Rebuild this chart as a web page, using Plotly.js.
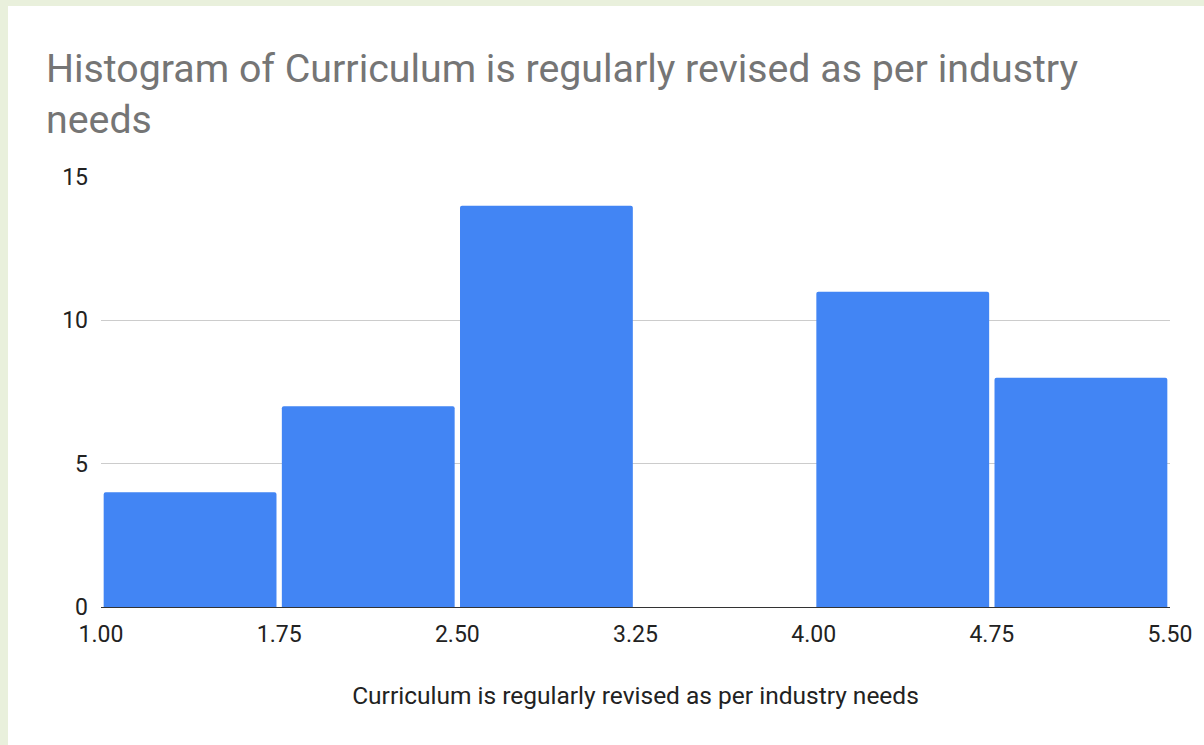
<!DOCTYPE html>
<html>
<head>
<meta charset="utf-8">
<script src="https://cdn.plot.ly/plotly-3.0.1.min.js"></script>
<style>
  html, body { margin: 0; padding: 0; background: #e9f0dc; width: 1204px; height: 745px; overflow: hidden; }
  #chart { position: absolute; left: 8px; top: 6px; width: 1196px; height: 739px; background: #ffffff; }
</style>
</head>
<body>
<div id="chart"></div>
<script>
// Data
const binEdges = [1.00, 1.75, 2.50, 3.25, 4.00, 4.75, 5.50];
const counts = [4, 7, 14, 0, 11, 8];
const yTicks = [0, 5, 10, 15];
const chartTitle = "Histogram of Curriculum is regularly revised as per industry<br>needs";
const xTitle = "Curriculum is regularly revised as per industry needs";

const centers = counts.map((c, i) => (binEdges[i] + binEdges[i + 1]) / 2);

const trace = {
  type: 'bar',
  x: centers,
  y: counts,
  marker: { color: '#4285f4', cornerradius: 2 },
  hoverinfo: 'x+y'
};

const layout = {
  width: 1196,
  height: 739,
  paper_bgcolor: '#ffffff',
  plot_bgcolor: '#ffffff',
  bargap: 0.03,
  showlegend: false,
  margin: { l: 93, r: 34, t: 171, b: 138 },
  title: {
    text: chartTitle,
    font: { family: 'Roboto, Arial, sans-serif', size: 39.3, color: '#757575' },
    x: 38 / 1196, xref: 'container', xanchor: 'left',
    y: 1 - 76 / 739, yref: 'container', yanchor: 'top'
  },
  xaxis: {
    range: [binEdges[0], binEdges[binEdges.length - 1]],
    tickmode: 'array',
    tickvals: binEdges,
    ticktext: binEdges.map(v => v.toFixed(2)),
    showgrid: false,
    zeroline: false,
    showline: true,
    linecolor: '#333333',
    linewidth: 1.3,
    ticks: '',
    tickfont: { family: 'Roboto, Arial, sans-serif', size: 23, color: '#222222' },
    ticklabelstandoff: 6,
    title: {
      text: xTitle,
      font: { family: 'Roboto, Arial, sans-serif', size: 24.5, color: '#222222' },
      standoff: 40
    },
    fixedrange: true
  },
  yaxis: {
    range: [0, 15],
    tickmode: 'array',
    tickvals: yTicks,
    ticktext: yTicks.map(String),
    showgrid: true,
    gridcolor: '#cccccc',
    gridwidth: 1,
    zeroline: false,
    showline: false,
    ticks: '',
    tickfont: { family: 'Roboto, Arial, sans-serif', size: 23, color: '#222222' },
    ticklabelstandoff: 12,
    fixedrange: true
  }
};

Plotly.newPlot('chart', [trace], layout, { displayModeBar: false, staticPlot: true });
</script>
</body>
</html>
